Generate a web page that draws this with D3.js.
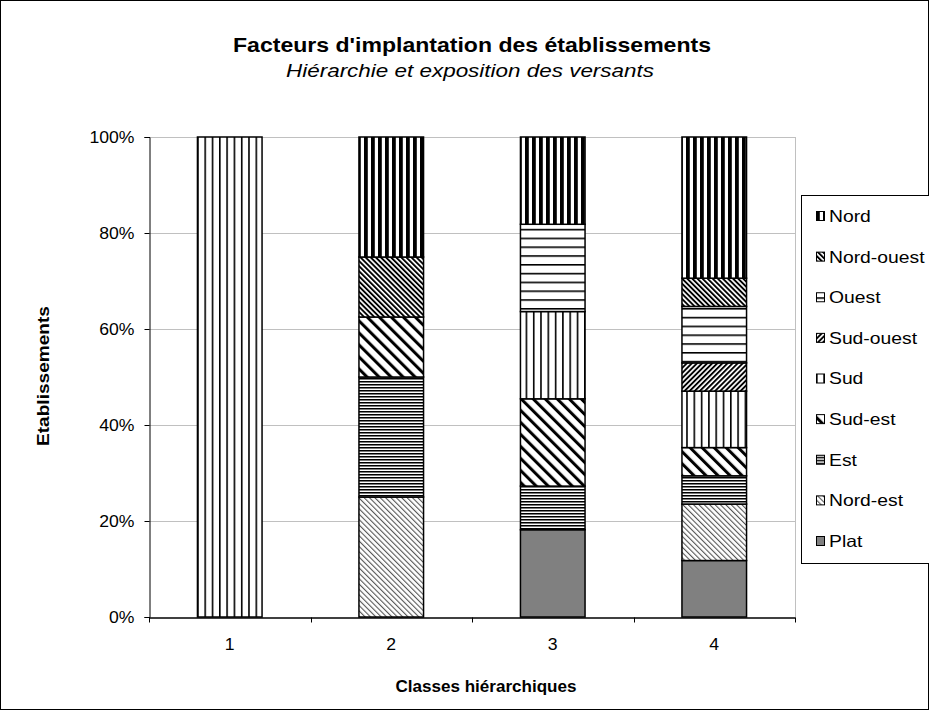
<!DOCTYPE html>
<html>
<head>
<meta charset="utf-8">
<script src="https://cdn.jsdelivr.net/npm/d3@7"></script>
<style>
  body { margin: 0; background: #fff; }
  svg { display: block; font-family: Arial, "Liberation Sans", sans-serif; }
</style>
</head>
<body>
<svg id="chart" width="929" height="710"></svg>
<script>
// ---- Data ----
const categories = ["1", "2", "3", "4"];
// stack order bottom -> top
const seriesNames = ["Plat", "Nord-est", "Est", "Sud-est", "Sud", "Sud-ouest", "Ouest", "Nord-ouest", "Nord"];
const plat      = [0, 0, 2, 2];
const nordEst   = [0, 2, 0, 2];
const est       = [0, 2, 1, 1];
const sudEst    = [0, 1, 2, 1];
const sud       = [1, 0, 2, 2];
const sudOuest  = [0, 0, 0, 1];
const ouest     = [0, 0, 2, 2];
const nordOuest = [0, 1, 0, 1];
const nord      = [0, 2, 2, 5];
const seriesValues = [plat, nordEst, est, sudEst, sud, sudOuest, ouest, nordOuest, nord];
const yTicks = [0, 0.2, 0.4, 0.6, 0.8, 1];
const titleText = "Facteurs d'implantation des établissements";
const subtitleText = "Hiérarchie et exposition des versants";
const xTitle = "Classes hiérarchiques";
const yTitle = "Etablissements";

// ---- Build table ----
const table = categories.map((c, i) => {
  const row = { cat: c };
  seriesNames.forEach((s, j) => row[s] = seriesValues[j][i]);
  return row;
});
const stacked = d3.stack().keys(seriesNames).offset(d3.stackOffsetExpand)(table);

const svg = d3.select("#chart");
const defs = svg.append("defs");

// widen text horizontally (reference text is horizontally stretched)
function widen(sel, k) {
  sel.each(function () {
    const w = this.getComputedTextLength();
    d3.select(this).attr("textLength", w * k).attr("lengthAdjust", "spacingAndGlyphs");
  });
}

// ---- Patterns ----
function stripes(id, period, lineW, angle, color, bg) {
  const p = defs.append("pattern").attr("id", id)
    .attr("patternUnits", "userSpaceOnUse")
    .attr("width", period).attr("height", period)
    .attr("patternTransform", `rotate(${angle})`);
  p.append("rect").attr("width", period).attr("height", period).attr("fill", bg || "#fff");
  p.append("rect").attr("x", 0).attr("y", 0).attr("width", lineW).attr("height", period).attr("fill", color);
}
function hstripes(id, period, lineW, color) {
  const p = defs.append("pattern").attr("id", id)
    .attr("patternUnits", "userSpaceOnUse")
    .attr("width", period).attr("height", period);
  p.append("rect").attr("width", period).attr("height", period).attr("fill", "#fff");
  p.append("rect").attr("x", 0).attr("y", 0).attr("width", period).attr("height", lineW).attr("fill", color);
}
stripes("p-nord", 7, 3.8, 0, "#000");
stripes("p-sud", 7.3, 1.6, 0, "#000");
hstripes("p-ouest", 8.8, 1.6, "#000");
(function () {
  const p = defs.append("pattern").attr("id", "p-est")
    .attr("patternUnits", "userSpaceOnUse").attr("width", 3).attr("height", 3);
  p.append("rect").attr("width", 3).attr("height", 3).attr("fill", "#fff");
  p.append("rect").attr("y", 0).attr("width", 3).attr("height", 1).attr("fill", "#000");
  p.append("rect").attr("y", 1).attr("width", 3).attr("height", 1).attr("fill", "#7a7a7a");
})();
stripes("p-nordouest", 3.6, 1.9, -45, "#000");
stripes("p-sudouest", 3.6, 1.9, 45, "#000");
stripes("p-sudest", 8.5, 3, -45, "#000");
stripes("p-nordest", 3.8, 1.1, -45, "#555");

const fills = {
  "Plat": "#808080",
  "Nord-est": "url(#p-nordest)",
  "Est": "url(#p-est)",
  "Sud-est": "url(#p-sudest)",
  "Sud": "url(#p-sud)",
  "Sud-ouest": "url(#p-sudouest)",
  "Ouest": "url(#p-ouest)",
  "Nord-ouest": "url(#p-nordouest)",
  "Nord": "url(#p-nord)"
};

// ---- Layout ----
const plot = { left: 149, right: 795, top: 137, bottom: 617 };
const x = d3.scaleBand().domain(categories).range([plot.left, plot.right])
  .paddingInner(0.6).paddingOuter(0.3);
const y = d3.scaleLinear().domain([0, 1]).range([plot.bottom, plot.top]);

// outer border
svg.append("rect").attr("x", 0.5).attr("y", 0.5).attr("width", 928).attr("height", 709)
  .attr("fill", "#fff").attr("stroke", "#000").attr("stroke-width", 1);

// gridlines
svg.append("g").selectAll("line").data(yTicks.filter(d => d > 0)).join("line")
  .attr("x1", plot.left).attr("x2", plot.right)
  .attr("y1", d => Math.round(y(d)) + 0.5).attr("y2", d => Math.round(y(d)) + 0.5)
  .attr("stroke", "#c0c0c0").attr("stroke-width", 1);
svg.append("line").attr("x1", plot.right + 0.5).attr("x2", plot.right + 0.5)
  .attr("y1", plot.top).attr("y2", plot.bottom)
  .attr("stroke", "#c0c0c0");

// bars
const layers = svg.append("g").selectAll("g").data(stacked).join("g")
  .attr("fill", d => fills[d.key]);
layers.selectAll("rect").data(d => d.filter(v => v[1] - v[0] > 0)).join("rect")
  .attr("x", d => x(d.data.cat))
  .attr("y", d => y(d[1]))
  .attr("width", x.bandwidth())
  .attr("height", d => y(d[0]) - y(d[1]))
  .attr("stroke", "#000").attr("stroke-width", 1.5);

// y axis
const yAxis = d3.axisLeft(y).tickValues(yTicks).tickFormat(d3.format(".0%")).tickSize(5).tickPadding(10);
const gy = svg.append("g").attr("transform", `translate(${plot.left + 0.5},0)`).call(yAxis);
gy.selectAll("text").attr("font-size", 16).attr("fill", "#000").attr("font-family", "Arial, 'Liberation Sans', sans-serif");
gy.selectAll("line, path").attr("stroke", "#000");
widen(gy.selectAll("text"), 1.1);

// x axis
const xAxis = d3.axisBottom(x).tickSize(0).tickPadding(21);
const gx = svg.append("g").attr("transform", `translate(0,${plot.bottom + 0.5})`).call(xAxis);
gx.selectAll("text").attr("font-size", 16).attr("fill", "#000").attr("font-family", "Arial, 'Liberation Sans', sans-serif");
gx.select("path").attr("stroke", "#000").attr("stroke-width", 1.5);
widen(gx.selectAll("text"), 1.1);
const step = x.step();
const boundaries = d3.range(categories.length + 1).map(i => plot.left + i * step);
gx.selectAll("line.bt").data(boundaries).join("line").attr("class", "bt")
  .attr("x1", d => Math.round(d) + 0.5).attr("x2", d => Math.round(d) + 0.5)
  .attr("y1", 0).attr("y2", 5).attr("stroke", "#000");

// titles
svg.append("text").attr("x", 472).attr("y", 52).attr("text-anchor", "middle")
  .attr("font-weight", "bold").attr("font-size", 20.5)
  .attr("textLength", 478).attr("lengthAdjust", "spacingAndGlyphs")
  .text(titleText);
svg.append("text").attr("x", 470).attr("y", 77).attr("text-anchor", "middle")
  .attr("font-style", "italic").attr("font-size", 18)
  .attr("textLength", 368).attr("lengthAdjust", "spacingAndGlyphs")
  .text(subtitleText);
svg.append("text").attr("x", 486).attr("y", 692).attr("text-anchor", "middle")
  .attr("font-weight", "bold").attr("font-size", 16)
  .attr("textLength", 181).attr("lengthAdjust", "spacingAndGlyphs")
  .text(xTitle);
svg.append("text").attr("transform", "translate(49,376) rotate(-90)").attr("text-anchor", "middle")
  .attr("font-weight", "bold").attr("font-size", 17)
  .attr("textLength", 140).attr("lengthAdjust", "spacingAndGlyphs")
  .text(yTitle);

// legend
const legend = svg.append("g");
legend.append("rect").attr("x", 801.5).attr("y", 195.5).attr("width", 140).attr("height", 368)
  .attr("fill", "#fff").attr("stroke", "#000");
const legendItems = seriesNames.slice().reverse();
const ly = d3.scalePoint().domain(legendItems).range([216, 541]);
const li = legend.selectAll("g.item").data(legendItems).join("g").attr("class", "item")
  .attr("transform", d => `translate(816,${ly(d)})`);
li.append("rect").attr("x", 0.5).attr("y", -4.5).attr("width", 8).attr("height", 9)
  .attr("fill", d => fills[d]).attr("stroke", "#000").attr("stroke-width", 1);
const ltext = li.append("text").attr("x", 13).attr("y", 0).attr("dy", "0.36em")
  .attr("font-size", 16.5).text(d => d);
widen(ltext, 1.17);
</script>
</body>
</html>
